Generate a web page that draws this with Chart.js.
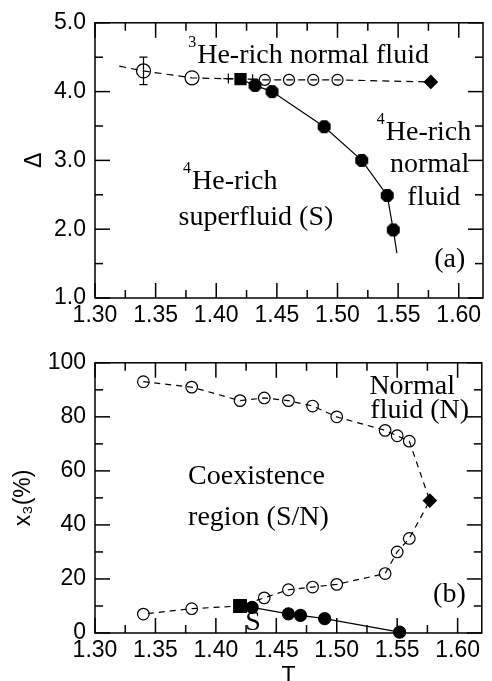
<!DOCTYPE html>
<html>
<head>
<meta charset="utf-8">
<script src="https://cdn.jsdelivr.net/npm/chart.js@4"></script>
<style>
  body { margin: 0; background: #fff; overflow: hidden; }
  .panel { position: relative; width: 492px; overflow: hidden; }
  #top { height: 340px; }
  #bottom { height: 341px; }
  canvas { display: block; }
</style>
</head>
<body>
<div class="panel" id="top"><canvas id="chartA" width="492" height="340"></canvas></div>
<div class="panel" id="bottom"><canvas id="chartB" width="492" height="360"></canvas></div>
<script>
// Axis ticks
const tMajor = [1.30, 1.35, 1.40, 1.45, 1.50, 1.55, 1.60];
const tMinor = [1.325, 1.375, 1.425, 1.475, 1.525, 1.575];
const deltaMajor = [1.0, 2.0, 3.0, 4.0, 5.0];
const deltaMinor = [1.5, 2.5, 3.5, 4.5];
const x3Major = [0, 20, 40, 60, 80, 100];
const x3Minor = [10, 30, 50, 70, 90];

// Panel (a): Delta vs T
const aOpenT = [1.34, 1.38, 1.44, 1.46, 1.48, 1.50];
const aOpenD = [4.30, 4.20, 4.17, 4.17, 4.17, 4.17];
const aCrossT = [1.41, 1.43];
const aCrossD = [4.19, 4.18];
const aSquareT = [1.42];
const aSquareD = [4.18];
const aDiamondT = [1.577];
const aDiamondD = [4.14];
const aFilledT = [1.432, 1.446, 1.489, 1.520, 1.541, 1.546];
const aFilledD = [4.09, 4.00, 3.49, 3.00, 2.49, 1.99];
const aDashT = [1.32, 1.34, 1.38, 1.42, 1.44, 1.46, 1.48, 1.50, 1.577];
const aDashD = [4.37, 4.30, 4.20, 4.18, 4.17, 4.17, 4.17, 4.17, 4.14];
const aSolidT = [1.42, 1.432, 1.446, 1.489, 1.520, 1.541, 1.546, 1.549];
const aSolidD = [4.18, 4.09, 4.00, 3.49, 3.00, 2.49, 1.99, 1.65];
const aErrT = [1.34];
const aErrD = [4.30];
const aErrSize = [0.20];

// Panel (b): x3 (%) vs T
const bUpperT = [1.34, 1.38, 1.42, 1.44, 1.46, 1.48, 1.50, 1.54, 1.55, 1.56];
const bUpperX = [93, 91, 86, 87, 86, 84, 80, 75, 73, 71];
const bLowerT = [1.56, 1.55, 1.54, 1.50, 1.48, 1.46, 1.44, 1.38, 1.34];
const bLowerX = [35, 30, 22, 18, 17, 16, 13, 9, 7];
const bSquareT = [1.42];
const bSquareX = [10];
const bDiamondT = [1.577];
const bDiamondX = [49];
const bFilledT = [1.43, 1.46, 1.47, 1.49, 1.552];
const bFilledX = [9.5, 7.1, 6.5, 5.3, 0.3];
const bDashT = [1.34, 1.38, 1.42, 1.44, 1.46, 1.48, 1.50, 1.54, 1.55, 1.56, 1.577, 1.56, 1.55, 1.54, 1.50, 1.48, 1.46, 1.44, 1.42, 1.38, 1.34];
const bDashX = [93, 91, 86, 87, 86, 84, 80, 75, 73, 71, 49, 35, 30, 22, 18, 17, 16, 13, 10, 9, 7];
const bSolidT = [1.42, 1.43, 1.46, 1.47, 1.49, 1.552];
const bSolidX = [10, 9.5, 7.1, 6.5, 5.3, 0.3];

const sans = "'Liberation Sans', Arial, Helvetica, sans-serif";
const serif = "'Liberation Serif', 'Times New Roman', serif";

function pts(xs, ys) {
    return xs.map((x, i) => ({ x: x, y: ys[i] }));
}

// filled octagon marker used in panel (a)
const octagon = document.createElement('canvas');
octagon.width = 15;
octagon.height = 15;
(function() {
    const c = octagon.getContext('2d');
    c.fillStyle = '#000';
    c.beginPath();
    for (let i = 0; i < 8; i++) {
        const ang = Math.PI / 8 + i * Math.PI / 4;
        c.lineTo(7.5 + 7 * Math.cos(ang), 7.5 + 7 * Math.sin(ang));
    }
    c.closePath();
    c.fill();
})();

// frame, inward ticks, error bars and text notes
function makeDecor(cfg) {
    return {
        id: 'decor',
        beforeDatasetsDraw(chart) {
            const ctx = chart.ctx;
            const a = chart.chartArea;
            const x = chart.scales.x, y = chart.scales.y;
            ctx.save();
            ctx.strokeStyle = '#000';
            ctx.lineWidth = 1.5;
            ctx.strokeRect(a.left, a.top, a.right - a.left, a.bottom - a.top);
            function seg(x1, y1, x2, y2) {
                ctx.beginPath();
                ctx.moveTo(x1, y1);
                ctx.lineTo(x2, y2);
                ctx.stroke();
            }
            function xticks(vals, len) {
                vals.forEach(v => {
                    const p = x.getPixelForValue(v);
                    if (p < a.left - 0.5 || p > a.right + 0.5) return;
                    seg(p, a.bottom, p, a.bottom - len);
                    seg(p, a.top, p, a.top + len);
                });
            }
            function yticks(vals, len) {
                vals.forEach(v => {
                    const p = y.getPixelForValue(v);
                    if (p < a.top - 0.5 || p > a.bottom + 0.5) return;
                    seg(a.left, p, a.left + len, p);
                    seg(a.right, p, a.right - len, p);
                });
            }
            xticks(tMajor, 15);
            xticks(tMinor, 8);
            yticks(cfg.yMajor, 15);
            yticks(cfg.yMinor, 8);
            ctx.restore();
        },
        afterDatasetsDraw(chart) {
            const ctx = chart.ctx;
            const x = chart.scales.x, y = chart.scales.y;
            ctx.save();
            ctx.strokeStyle = '#000';
            ctx.lineWidth = 1.2;
            (cfg.errT || []).forEach((t, i) => {
                const px = x.getPixelForValue(t);
                const top = y.getPixelForValue(cfg.errV[i] + cfg.errE[i]);
                const bot = y.getPixelForValue(cfg.errV[i] - cfg.errE[i]);
                ctx.beginPath();
                ctx.moveTo(px, top); ctx.lineTo(px, bot);
                ctx.moveTo(px - 4, top); ctx.lineTo(px + 4, top);
                ctx.moveTo(px - 4, bot); ctx.lineTo(px + 4, bot);
                ctx.stroke();
            });
            ctx.fillStyle = '#000';
            ctx.textAlign = 'left';
            ctx.textBaseline = 'alphabetic';
            cfg.notes.forEach(n => {
                const px = x.getPixelForValue(n.t);
                const py = y.getPixelForValue(n.v);
                if (n.sup) {
                    ctx.font = '16px ' + serif;
                    const w = ctx.measureText(n.sup).width;
                    ctx.fillText(n.sup, px - w - 1, py - 16);
                }
                ctx.font = '28px ' + serif;
                ctx.fillText(n.text, px, py);
            });
            ctx.restore();
        }
    };
}

function xAxis(height, showTitle) {
    return {
        type: 'linear',
        min: 1.30,
        max: 1.62,
        afterBuildTicks: s => { s.ticks = tMajor.map(v => ({ value: v })); },
        afterFit: s => { s.height = height; },
        ticks: {
            font: { family: sans, size: 23 },
            color: '#000',
            padding: 4,
            autoSkip: false,
            maxRotation: 0,
            callback: v => v.toFixed(2)
        },
        grid: { display: false, drawTicks: false },
        border: { display: false },
        title: {
            display: showTitle,
            text: 'T',
            color: '#000',
            font: { family: sans, size: 23, weight: 'normal' },
            padding: { top: 0, bottom: 10 }
        }
    };
}

function yAxis(min, max, major, digits, label, titlePad) {
    return {
        type: 'linear',
        min: min,
        max: max,
        afterBuildTicks: s => { s.ticks = major.map(v => ({ value: v })); },
        afterFit: s => { s.width = 95; },
        ticks: {
            font: { family: sans, size: 23 },
            color: '#000',
            padding: 9,
            autoSkip: false,
            callback: v => v.toFixed(digits)
        },
        grid: { display: false, drawTicks: false },
        border: { display: false },
        title: {
            display: true,
            text: label,
            color: '#000',
            font: { family: sans, size: 23, weight: 'normal' },
            padding: { top: titlePad, bottom: 0 }
        }
    };
}

const commonOpts = {
    responsive: false,
    devicePixelRatio: 1,
    animation: false,
    events: [],
    plugins: { legend: { display: false }, tooltip: { enabled: false } }
};

function marker(data, style, radius, filled, extra) {
    return Object.assign({
        data: data,
        showLine: false,
        pointStyle: style,
        pointRadius: radius,
        pointBorderColor: '#000',
        pointBackgroundColor: filled ? '#000' : 'rgba(0,0,0,0)',
        pointBorderWidth: 1.2,
        clip: false
    }, extra || {});
}

function line(data, dash) {
    return {
        data: data,
        showLine: true,
        borderColor: '#000',
        borderWidth: 1.2,
        borderDash: dash,
        pointRadius: 0,
        clip: false
    };
}

// Panel (a)
new Chart(document.getElementById('chartA'), {
    type: 'scatter',
    data: {
        datasets: [
            marker(pts(aOpenT, aOpenD), 'circle', ctx => ctx.dataIndex < 2 ? 7 : 5.5, false),
            marker(pts(aCrossT, aCrossD), 'cross', 5, false),
            marker(pts(aSquareT, aSquareD), 'rect', 7.8, true),
            marker(pts(aDiamondT, aDiamondD), 'rectRot', 6.5, true),
            marker(pts(aFilledT, aFilledD), octagon, 7, true),
            line(pts(aDashT, aDashD), [7, 5]),
            line(pts(aSolidT, aSolidD), [])
        ]
    },
    options: Object.assign({}, commonOpts, {
        layout: { padding: { top: 22, right: 2, left: 0, bottom: 0 } },
        scales: {
            x: xAxis(42, false),
            y: yAxis(1, 5, deltaMajor, 1, 'Δ', 21)
        }
    }),
    plugins: [makeDecor({
        yMajor: deltaMajor,
        yMinor: deltaMinor,
        errT: aErrT, errV: aErrD, errE: aErrSize,
        notes: [
            { t: 1.3843, v: 4.416, sup: '3', text: 'He-rich normal fluid' },
            { t: 1.5398, v: 3.290, sup: '4', text: 'He-rich' },
            { t: 1.5432, v: 2.830, text: 'normal' },
            { t: 1.5576, v: 2.348, text: 'fluid' },
            { t: 1.3800, v: 2.590, sup: '4', text: 'He-rich' },
            { t: 1.3689, v: 2.058, text: 'superfluid (S)' },
            { t: 1.5797, v: 1.454, text: '(a)' }
        ]
    })]
});

// Panel (b)
new Chart(document.getElementById('chartB'), {
    type: 'scatter',
    data: {
        datasets: [
            marker(pts(bUpperT, bUpperX), 'circle', 5.8, false),
            marker(pts(bLowerT, bLowerX), 'circle', 5.8, false),
            marker(pts(bSquareT, bSquareX), 'rect', 9, true),
            marker(pts(bDiamondT, bDiamondX), 'rectRot', 6.5, true),
            marker(pts(bFilledT, bFilledX), 'circle', 6, true),
            line(pts(bDashT, bDashX), [6, 5]),
            line(pts(bSolidT, bSolidX), [])
        ]
    },
    options: Object.assign({}, commonOpts, {
        layout: { padding: { top: 15, right: 2, left: 0, bottom: 0 } },
        scales: {
            x: xAxis(67, true),
            y: yAxis(0, 100, x3Major, 0, 'x₃(%)', 10)
        }
    }),
    plugins: [makeDecor({
        yMajor: x3Major,
        yMinor: x3Minor,
        notes: [
            { t: 1.5270, v: 88.5, text: 'Normal' },
            { t: 1.5278, v: 79.6, text: 'fluid (N)' },
            { t: 1.3770, v: 55.0, text: 'Coexistence' },
            { t: 1.3770, v: 40.0, text: 'region (S/N)' },
            { t: 1.5797, v: 11.6, text: '(b)' },
            { t: 1.4243, v: 1.08, text: 'S' }
        ]
    })]
});
</script>
</body>
</html>
